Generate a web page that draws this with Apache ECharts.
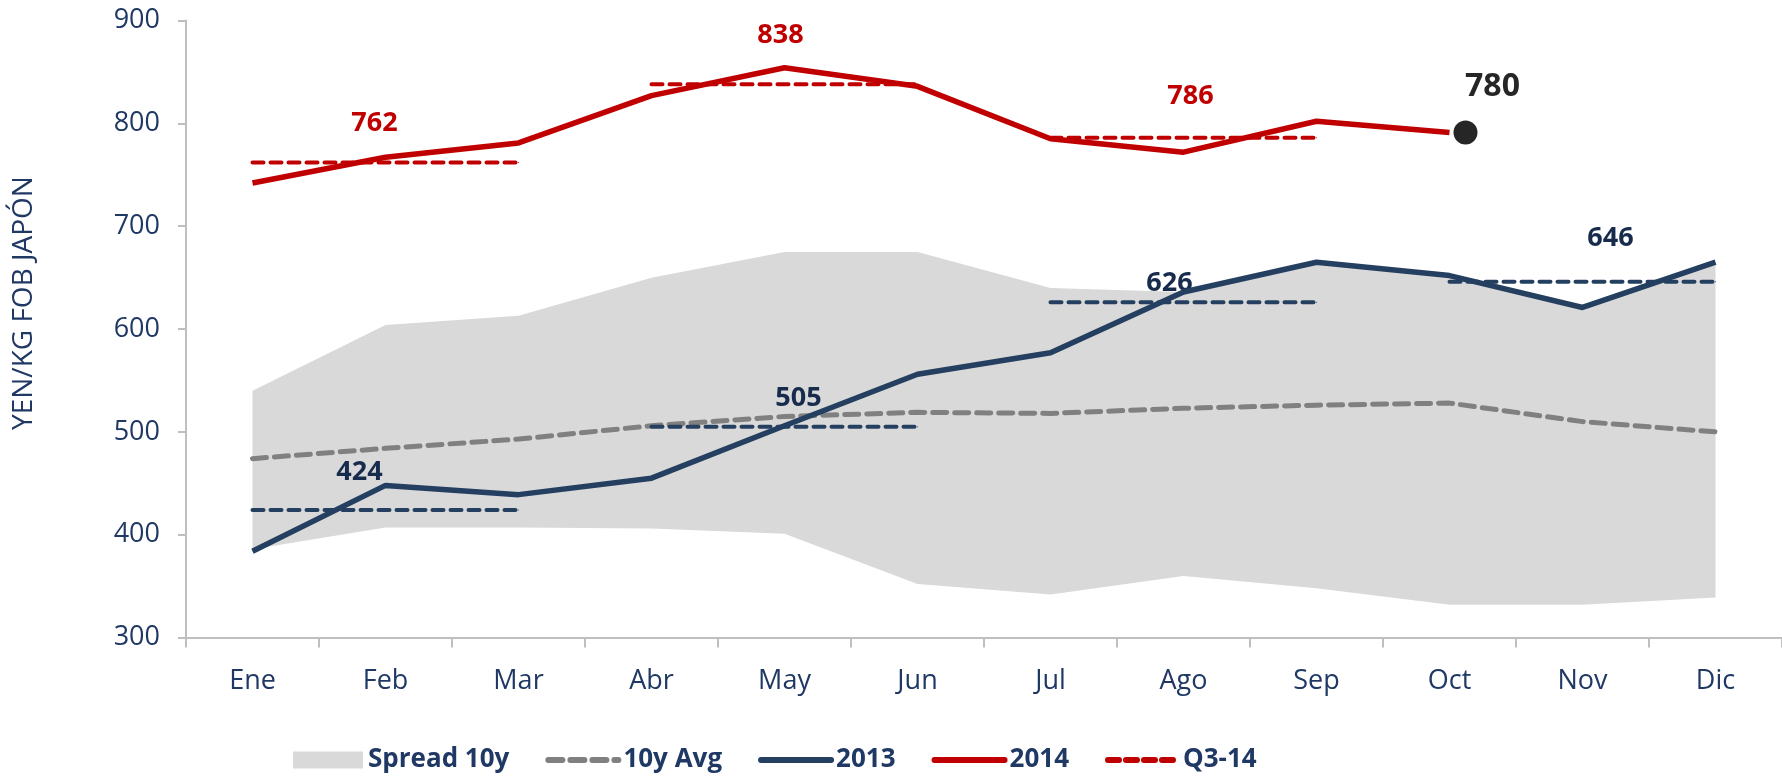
<!DOCTYPE html>
<html>
<head>
<meta charset="utf-8">
<title>YEN/KG FOB JAPÓN</title>
<script src="https://cdn.jsdelivr.net/npm/echarts@6/dist/echarts.min.js"></script>
<style>
  html, body { margin: 0; padding: 0; background: #fff; }
  #chart { width: 1782px; height: 779px; }
</style>
</head>
<body>
<div id="chart"></div>
<script>
// months
const months = ['Ene', 'Feb', 'Mar', 'Abr', 'May', 'Jun', 'Jul', 'Ago', 'Sep', 'Oct', 'Nov', 'Dic'];

// 10 year band (min / max) and average
const spreadLow  = [386, 407, 407, 406, 401, 352, 342, 360, 348, 332, 332, 339];
const spreadHigh = [540, 604, 613, 650, 675, 675, 640, 636, 665, 652, 621, 665];
const avg10y     = [474, 484, 493, 506, 515, 519, 518, 523, 526, 528, 510, 500];

// yearly prices
const y2013 = [384, 448, 439, 455, 506, 556, 577, 636, 665, 652, 621, 665];
const y2014 = [742, 767, 781, 827, 854, 836, 785, 772, 802, 791];

// quarterly averages (start month index of each quarter)
const quarterStart = [0, 3, 6, 9];
const q2014 = [762, 838, 786];
const q2013 = [424, 505, 626, 646];

// latest point
const latestIdx = 9;
const latestValue = 791;
const latestLabel = '780';

const yTicks = { min: 300, max: 900, step: 100 };

const RED = '#C00000';
const NAVY = '#243F60';
const GREY = '#808080';
const TEXT = '#1F3864';
const LABEL_NAVY = '#172B4D';
const FONT = '"Open Sans", "Noto Sans", sans-serif';

// label offsets for the quarter labels (pixels, from the middle month)
const redOffsets = [[-11, -39], [-4, -49], [7, -41]];
const navyOffsets = [[-26, -38], [14, -28], [-14, -19], [28, -43]];

function quarterSeries(name, values, color, offsets) {
    return values.map(function (v, q) {
        const data = months.map(function () { return null; });
        const s = quarterStart[q];
        for (let k = 0; k < 3; k++) {
            data[s + k] = v;
        }
        data[s + 1] = {
            value: v,
            label: {
                show: true,
                position: 'inside',
                offset: offsets[q],
                formatter: String(v),
                color: color === RED ? RED : LABEL_NAVY,
                fontFamily: FONT,
                fontWeight: 'bold',
                fontSize: 27
            }
        };
        return {
            name: name,
            type: 'line',
            data: data,
            symbol: 'circle',
            symbolSize: 1,
            showSymbol: true,
            itemStyle: { color: color },
            lineStyle: { color: color, width: 4, type: [11, 7], cap: 'round' },
            z: 4,
            silent: true
        };
    });
}

const spreadDiff = spreadHigh.map(function (h, i) { return h - spreadLow[i]; });

var myChart = echarts.init(document.getElementById('chart'));

// line legend entries: keep the line, hide the marker
const noMarker = { opacity: 0 };

let option = {
    animation: false,
    grid: { left: 186, right: -3, top: 20.5, bottom: 141.4 },
    graphic: [
        {
            type: 'text',
            x: 24,
            y: 303,
            rotation: Math.PI / 2,
            style: {
                text: 'YEN/KG FOB JAPÓN',
                fill: TEXT,
                font: '28px ' + FONT,
                textAlign: 'center',
                textVerticalAlign: 'middle'
            }
        }
    ],
    legend: {
        left: 288,
        top: 742,
        itemWidth: 70,
        itemHeight: 17,
        itemGap: 36,
        lineStyle: { width: 6, cap: 'round' },
        textStyle: { color: TEXT, fontFamily: FONT, fontWeight: 'bold', fontSize: 26 },
        data: [
            { name: 'Spread 10y', icon: 'rect' },
            { name: '10y Avg', itemStyle: noMarker },
            { name: '2013', itemStyle: noMarker },
            { name: '2014', itemStyle: noMarker },
            { name: 'Q3-14', itemStyle: noMarker }
        ]
    },
    xAxis: {
        type: 'category',
        data: months,
        boundaryGap: true,
        axisLine: { lineStyle: { color: '#BFBFBF', width: 2 } },
        axisTick: { show: true, length: 10, lineStyle: { color: '#BFBFBF', width: 2 } },
        axisLabel: { color: TEXT, fontFamily: FONT, fontSize: 27, margin: 30 },
        splitLine: { show: false }
    },
    yAxis: {
        type: 'value',
        min: yTicks.min,
        max: yTicks.max,
        interval: yTicks.step,
        axisLine: { show: true, lineStyle: { color: '#BFBFBF', width: 2 } },
        axisTick: { show: true, length: 8, lineStyle: { color: '#BFBFBF', width: 2 } },
        axisLabel: { color: TEXT, fontFamily: FONT, fontSize: 27, margin: 26 },
        splitLine: { show: false }
    },
    series: [
        {
            name: 'low',
            type: 'line',
            stack: 'band',
            data: spreadLow,
            symbol: 'none',
            lineStyle: { width: 0, opacity: 0 },
            silent: true,
            z: 1
        },
        {
            name: 'Spread 10y',
            type: 'line',
            stack: 'band',
            data: spreadDiff,
            symbol: 'none',
            color: '#D9D9D9',
            lineStyle: { width: 0, opacity: 0 },
            areaStyle: { color: '#D9D9D9', opacity: 1 },
            silent: true,
            z: 1
        },
        {
            name: '10y Avg',
            type: 'line',
            data: avg10y,
            symbol: 'none',
            color: GREY,
            lineStyle: { color: GREY, width: 5, type: [14, 8], cap: 'round' },
            z: 3
        },
        {
            name: '2013',
            type: 'line',
            data: y2013,
            symbol: 'none',
            color: NAVY,
            lineStyle: { color: NAVY, width: 5.5 },
            z: 5
        },
        {
            name: '2014',
            type: 'line',
            data: y2014,
            symbol: 'none',
            color: RED,
            lineStyle: { color: RED, width: 5.5 },
            z: 5
        }
    ]
        .concat(quarterSeries('Q3-14', q2014, RED, redOffsets))
        .concat(quarterSeries('Q 2013', q2013, NAVY, navyOffsets))
        .concat([
            {
                name: 'latest',
                type: 'scatter',
                data: [[latestIdx, latestValue]],
                symbol: 'circle',
                symbolSize: 24,
                symbolOffset: [16, 0],
                itemStyle: { color: '#262626', opacity: 1 },
                label: {
                    show: true,
                    position: 'inside',
                    offset: [27, -46],
                    formatter: latestLabel,
                    color: '#262626',
                    opacity: 1,
                    fontFamily: FONT,
                    fontWeight: 'bold',
                    fontSize: 32
                },
                z: 6
            }
        ])
};

myChart.setOption(option);
</script>
</body>
</html>
